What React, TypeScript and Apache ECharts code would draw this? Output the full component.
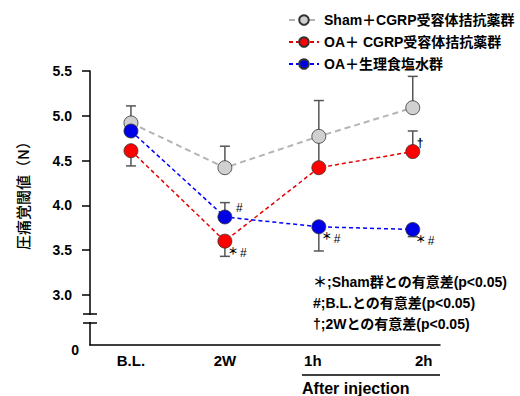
import React, { useEffect, useRef } from "react";
import * as echarts from "echarts";

const categories = ["B.L.", "2W", "1h", "2h"];
const seriesNames = ["Sham＋CGRP受容体拮抗薬群", "OA＋ CGRP受容体拮抗薬群", "OA＋生理食塩水群"];
const shamValues = [4.92, 4.42, 4.77, 5.09];
const shamErrUp = [0.19, 0.24, 0.4, 0.35];
const shamErrDown = [0, 0, 0.34, 0];
const redValues = [4.61, 3.6, 4.42, 4.6];
const redErrUp = [0, 0, 0, 0.23];
const redErrDown = [0.17, 0.17, 0, 0];
const blueValues = [4.83, 3.87, 3.76, 3.73];
const blueErrUp = [0, 0.16, 0, 0];
const blueErrDown = [0, 0, 0.27, 0.08];
const yTicks = [3.0, 3.5, 4.0, 4.5, 5.0, 5.5];
const redSig = ["", "＊#", "", "†"];
const blueSig = ["", "#", "＊#", "＊#"];
const notes = ["＊;Sham群との有意差(p<0.05)", "#;B.L.との有意差(p<0.05)", "†;2Wとの有意差(p<0.05)"];
const yName = "圧痛覚閾値（N）";
const afterLabel = "After injection";

const FONT = "'Liberation Sans', 'Noto Sans CJK JP', sans-serif";

function errSeries(name: string, vals: number[], up: number[], dn: number[]) {
  return {
    type: "custom",
    name: name + "_err",
    z: 1,
    silent: true,
    data: vals.map((v, i) => [i, v, up[i], dn[i]]),
    renderItem: (params: any, api: any) => {
      const x = api.value(0);
      const v = api.value(1);
      const u = api.value(2);
      const d = api.value(3);
      const children: any[] = [];
      const style = { stroke: "#555", lineWidth: 1.5 };
      const c = api.coord([x, v]);
      if (u > 0) {
        const t = api.coord([x, v + u]);
        children.push({ type: "line", shape: { x1: c[0], y1: c[1], x2: t[0], y2: t[1] }, style });
        children.push({ type: "line", shape: { x1: t[0] - 5, y1: t[1], x2: t[0] + 5, y2: t[1] }, style });
      }
      if (d > 0) {
        const b = api.coord([x, v - d]);
        children.push({ type: "line", shape: { x1: c[0], y1: c[1], x2: b[0], y2: b[1] }, style });
        children.push({ type: "line", shape: { x1: b[0] - 5, y1: b[1], x2: b[0] + 5, y2: b[1] }, style });
      }
      return { type: "group", children };
    },
  };
}

function lineSeries(name: string, vals: number[], fill: string, lineColor: string, dash: number[], lw: number) {
  return {
    type: "line",
    name,
    z: 3,
    data: vals.map((v, i) => [i, v]),
    symbol: "circle",
    symbolSize: 14,
    itemStyle: { color: fill, borderColor: "#333", borderWidth: 0.8 },
    lineStyle: { color: lineColor, type: dash, width: lw },
  };
}

export default function App() {
  const ref = useRef<HTMLDivElement>(null);
  useEffect(() => {
    document.body.style.margin = "0";
    const chart = echarts.init(ref.current!, null, { renderer: "svg" });
    chart.setOption({
      animation: false,
      textStyle: { fontFamily: FONT },
      grid: { left: 90, right: 80, top: 71, bottom: 51 },
      legend: {
        orient: "vertical",
        left: 283,
        top: 8,
        itemWidth: 30,
        itemHeight: 12,
        itemGap: 8,
        data: seriesNames,
        textStyle: { fontFamily: FONT, fontSize: 14, fontWeight: "bold", color: "#000" },
      },
      xAxis: {
        type: "value",
        min: -0.436,
        max: 3.29,
        splitLine: { show: false },
        axisLine: { show: true, onZero: false, lineStyle: { color: "#000", width: 1.5 } },
        axisTick: { show: false },
        axisLabel: {
          customValues: [0, 1, 2, 3],
          margin: 8,
          fontFamily: FONT,
          fontSize: 15,
          fontWeight: "bold",
          color: "#000",
          formatter: (v: number) => {
            const i = Math.round(v);
            const s = categories[i];
            if (i === 2) return "{l|" + s + "}";
            if (i === 3) return "{r|" + s + "}";
            return s;
          },
          rich: {
            l: { fontFamily: FONT, fontSize: 15, fontWeight: "bold", color: "#000", padding: [0, 12, 0, 0] },
            r: { fontFamily: FONT, fontSize: 15, fontWeight: "bold", color: "#000", padding: [0, 0, 0, 22] },
          },
        },
      },
      yAxis: {
        type: "value",
        min: 2.44,
        max: 5.5,
        splitLine: { show: false },
        axisLine: { show: true, onZero: false, lineStyle: { color: "#000", width: 1.5 } },
        axisTick: { show: true, inside: false, length: 8, customValues: yTicks, lineStyle: { color: "#000", width: 1.5 } },
        axisLabel: {
          customValues: yTicks,
          margin: 18,
          fontFamily: FONT,
          fontSize: 14,
          fontWeight: "bold",
          color: "#000",
          formatter: (v: number) => v.toFixed(1),
        },
      },
      series: [
        errSeries(seriesNames[0], shamValues, shamErrUp, shamErrDown),
        errSeries(seriesNames[1], redValues, redErrUp, redErrDown),
        errSeries(seriesNames[2], blueValues, blueErrUp, blueErrDown),
        lineSeries(seriesNames[0], shamValues, "#d0d0d0", "#b4b4b4", [6, 4], 2),
        lineSeries(seriesNames[1], redValues, "#ff0000", "#e60000", [4, 3], 1.5),
        lineSeries(seriesNames[2], blueValues, "#0000e6", "#0000ff", [4, 3], 1.5),
      ],
    });

    const graphics: any[] = [];
    const addSig = (vals: number[], sig: string[]) => {
      sig.forEach((s, i) => {
        if (!s) return;
        const p = chart.convertToPixel({ gridIndex: 0 }, [i, vals[i]]) as number[];
        if (s === "#") {
          graphics.push({
            type: "text", x: p[0] + 11, y: p[1] - 9, z: 10,
            style: { text: "#", align: "left", verticalAlign: "middle", font: "12px " + FONT, fill: "#000000" },
          });
        } else if (s === "†") {
          graphics.push({
            type: "text", x: p[0] + 4, y: p[1] - 9, z: 10,
            style: { text: "†", align: "left", verticalAlign: "middle", font: "bold 12px " + FONT, fill: "#000000" },
          });
        } else {
          graphics.push({
            type: "text", x: p[0] + 3, y: p[1] + 9, z: 10,
            style: { text: "＊", align: "left", verticalAlign: "middle", font: "bold 10px 'Noto Sans CJK JP', sans-serif", fill: "#000000" },
          });
          graphics.push({
            type: "text", x: p[0] + 15, y: p[1] + 12, z: 10,
            style: { text: "#", align: "left", verticalAlign: "middle", font: "12px " + FONT, fill: "#000000" },
          });
        }
      });
    };
    addSig(redValues, redSig);
    addSig(blueValues, blueSig);

    notes.forEach((n, i) => {
      graphics.push({
        type: "text",
        x: 313,
        y: 282 + i * 21,
        style: { text: n, align: "left", verticalAlign: "middle", font: "bold 14px " + FONT, fill: "#000" },
      });
    });

    // axis break
    graphics.push({ type: "rect", shape: { x: 86, y: 315, width: 8, height: 7 }, style: { fill: "#fff" }, z: 20 });
    graphics.push({ type: "line", shape: { x1: 83, y1: 314, x2: 97, y2: 314 }, style: { stroke: "#000", lineWidth: 1.5 }, z: 21 });
    graphics.push({ type: "line", shape: { x1: 83, y1: 323, x2: 97, y2: 323 }, style: { stroke: "#000", lineWidth: 1.5 }, z: 21 });
    graphics.push({
      type: "text",
      x: 79,
      y: 350,
      style: { text: "0", align: "right", verticalAlign: "middle", font: "bold 14px " + FONT, fill: "#000" },
    });
    graphics.push({
      type: "text",
      x: 22,
      y: 192,
      rotation: Math.PI / 2,
      style: { text: yName, align: "center", verticalAlign: "middle", font: "500 15px 'Noto Sans CJK JP', sans-serif", fill: "#000" },
    });
    graphics.push({ type: "line", shape: { x1: 302, y1: 375, x2: 440, y2: 375 }, style: { stroke: "#000", lineWidth: 1.5 } });
    graphics.push({
      type: "text",
      x: 302,
      y: 388,
      style: { text: afterLabel, align: "left", verticalAlign: "middle", font: "bold 16px " + FONT, fill: "#000" },
    });

    chart.setOption({ graphic: graphics });
    return () => chart.dispose();
  }, []);
  return <div ref={ref} style={{ width: 520, height: 396 }} />;
}
